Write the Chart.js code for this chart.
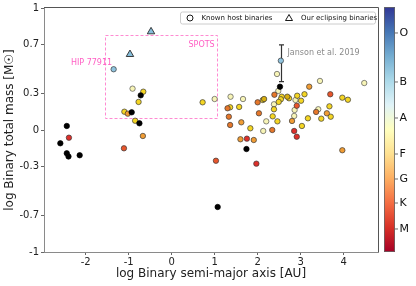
<!DOCTYPE html>
<html><head><meta charset="utf-8">
<script src="https://cdn.jsdelivr.net/npm/chart.js@4"></script>
<style>html,body{margin:0;padding:0;background:#fff}</style>
</head><body>
<canvas id="c" width="416" height="286"></canvas>
<script>
// ---------- data ----------
const xTicks = [-2, -1, 0, 1, 2, 3, 4];
const yTicks = [-1, -0.7, -0.3, 0, 0.3, 0.7, 1];
const spectralLabels = ['O', 'B', 'A', 'F', 'G', 'K', 'M'];
const spectralLevels = [0.894, 0.694, 0.547, 0.400, 0.298, 0.200, 0.094];

const hostBlack = [[-2.44,0.033],[-2.59,-0.109],[-2.44,-0.191],[-2.40,-0.217],[-2.14,-0.207],
  [-0.72,0.284],[-0.93,0.145],[-0.75,0.055],[2.52,0.355],[1.74,-0.156],[1.07,-0.631]];
const hostBlue = [[-1.35,0.498],[2.54,0.568]];
const hostPale = [[-0.91,0.339],[1.00,0.254],[1.37,0.273],[1.66,0.254],[2.45,0.459],[2.48,0.320],
  [2.38,0.211],[2.88,0.246],[2.86,0.164],[3.45,0.402],[3.41,0.170],[2.85,0.115],[2.20,0.071],
  [2.13,-0.008],[4.48,0.385]];
const hostYellow = [[-0.66,0.314],[-0.77,0.230],[-1.10,0.150],[-0.85,0.076],[0.72,0.227],[1.36,0.186],
  [1.57,0.189],[2.12,0.246],[2.56,0.273],[2.54,0.252],[2.49,0.230],[2.73,0.260],[2.92,0.281],
  [3.09,0.293],[3.01,0.240],[3.97,0.265],[4.10,0.248],[2.38,0.170],[3.67,0.194],[3.70,0.109],
  [2.35,0.112],[3.17,0.096],[3.48,0.093],[2.46,0.071],[1.83,0.014],[3.03,0.033]];
const hostGold = [[2.15,0.254],[2.69,0.273]];
const hostOrange = [[3.20,0.355],[1.62,0.063],[2.80,0.074],[3.61,0.137],[1.60,-0.076],[1.91,-0.082],
  [3.97,-0.166],[-0.67,-0.049],[-1.02,0.134]];
const hostDarkOrange = [[1.30,0.178],[1.33,0.109],[1.36,0.041],[2.39,0.289],[2.03,0.137],[2.34,0.000],
  [3.36,0.148],[2.00,0.227]];
const hostRedOrange = [[-1.11,-0.150],[3.69,0.293],[2.91,0.199],[1.03,-0.252]];
const hostRed = [[-2.39,-0.063],[2.85,-0.008],[2.91,-0.055],[1.75,-0.071],[1.97,-0.276]];
const eclipsing = [[-0.48,0.806],[-0.97,0.620]];
const jansonX = [2.54];
const jansonLow = [0.396];
const jansonHigh = [0.697];
const spotsX = [-1.54, 1.07];
const spotsY = [0.10, 0.78];

// ---------- helpers ----------
const FONT = "'DejaVu Sans', sans-serif";
const toPts = a => a.map(p => ({x: p[0], y: p[1]}));
function hostSet(arr, color, edge) {
  return {data: toPts(arr), pointStyle: 'circle', pointRadius: 2.7, pointHoverRadius: 2.7,
    backgroundColor: color, borderColor: edge || '#3a3a3a', borderWidth: 0.7, showLine: false};
}
const datasets = [
  {data: toPts(eclipsing), pointStyle: 'triangle', pointRadius: 4.3, pointHoverRadius: 4.3,
    backgroundColor: '#86bedb', borderColor: '#2a2a2a', borderWidth: 0.9},
  hostSet(hostBlue, '#8fc3de'),
  hostSet(hostBlack, '#000', '#000'),
  hostSet(hostRed, '#dd302b'),
  hostSet(hostRedOrange, '#e8552b'),
  hostSet(hostDarkOrange, '#e5772a'),
  hostSet(hostOrange, '#f09c34'),
  hostSet(hostGold, '#d8ae10'),
  hostSet(hostYellow, '#f4d523'),
  hostSet(hostPale, '#f7f4b6', '#555')
];

const decor = {
  id: 'decor',
  beforeDatasetsDraw(chart) {
    const {ctx, scales: {x, y}} = chart;
    ctx.save();
    // SPOTS box
    const l = x.getPixelForValue(spotsX[0]), r = x.getPixelForValue(spotsX[1]);
    const t = y.getPixelForValue(spotsY[1]), b = y.getPixelForValue(spotsY[0]);
    ctx.strokeStyle = '#ff8ad2'; ctx.lineWidth = 1; ctx.setLineDash([3, 2]);
    ctx.strokeRect(Math.round(l) + 0.5, Math.round(t) + 0.5, Math.round(r - l), Math.round(b - t));
    ctx.setLineDash([]);
    ctx.fillStyle = '#ff5fc4'; ctx.font = '8px ' + FONT; ctx.textBaseline = 'middle';
    ctx.textAlign = 'right'; ctx.fillText('SPOTS', r - 3, t + 10);
    const hx = x.getPixelForValue(hostBlue[0][0]), hy = y.getPixelForValue(hostBlue[0][1]);
    ctx.fillText('HIP 77911', hx - 1.5, hy - 6.5);
    // Janson error bar
    for (let i = 0; i < jansonX.length; i++) {
      const ex = Math.round(x.getPixelForValue(jansonX[i])) + 0.5;
      const y0 = y.getPixelForValue(jansonLow[i]), y1 = y.getPixelForValue(jansonHigh[i]);
      ctx.strokeStyle = '#333'; ctx.lineWidth = 1.2;
      ctx.beginPath(); ctx.moveTo(ex, y0); ctx.lineTo(ex, y1);
      ctx.moveTo(ex - 2.5, y0); ctx.lineTo(ex + 2.5, y0);
      ctx.moveTo(ex - 2.5, y1); ctx.lineTo(ex + 2.5, y1); ctx.stroke();
      ctx.fillStyle = '#8a8a8a'; ctx.textAlign = 'left';
      ctx.fillText('Janson et al. 2019', ex + 6, (y0 + y1) / 2 - 10.5);
    }
    ctx.restore();
  },
  afterDraw(chart) {
    const {ctx, chartArea: ca} = chart;
    ctx.save();
    // top/right frame
    ctx.strokeStyle = '#555'; ctx.lineWidth = 1;
    ctx.beginPath();
    ctx.moveTo(ca.left, Math.round(ca.top) - 0.5); ctx.lineTo(Math.round(ca.right) + 0.5, Math.round(ca.top) - 0.5);
    ctx.lineTo(Math.round(ca.right) + 0.5, ca.bottom);
    ctx.stroke();
    // legend
    const lx = ca.right - 198, ly = ca.top + 3.5, lw = 195, lh = 12;
    ctx.fillStyle = '#fff'; ctx.strokeStyle = '#cccccc'; ctx.lineWidth = 1;
    ctx.beginPath(); ctx.roundRect(lx + 0.5, ly + 0.5, lw, lh, 2); ctx.fill(); ctx.stroke();
    const cy = ly + lh / 2 + 0.5;
    ctx.strokeStyle = '#000'; ctx.lineWidth = 0.9;
    ctx.beginPath(); ctx.arc(lx + 10, cy, 3, 0, Math.PI * 2); ctx.stroke();
    ctx.beginPath(); ctx.moveTo(lx + 109, cy - 3.5); ctx.lineTo(lx + 112.5, cy + 2.5); ctx.lineTo(lx + 105.5, cy + 2.5); ctx.closePath(); ctx.stroke();
    ctx.fillStyle = '#111'; ctx.font = '7px ' + FONT; ctx.textBaseline = 'middle'; ctx.textAlign = 'left';
    ctx.fillText('Known host binaries', lx + 21.5, cy);
    ctx.fillText('Our eclipsing binaries', lx + 121, cy);
    // colorbar
    const bx = ca.right + 6, bw = 11, by0 = ca.top - 1, by1 = ca.bottom;
    const g = ctx.createLinearGradient(0, by1, 0, by0);
    const stops = ['#a50026','#d73027','#f46d43','#fdae61','#fee090','#ffffbf','#e0f3f8','#abd9e9','#74add1','#4575b4','#313695'];
    stops.forEach((c, i) => g.addColorStop(i / (stops.length - 1), c));
    ctx.fillStyle = g; ctx.fillRect(bx, by0, bw, by1 - by0);
    ctx.strokeStyle = '#666'; ctx.lineWidth = 0.8; ctx.strokeRect(bx + 0.5, by0 + 0.5, bw - 1, by1 - by0 - 1);
    ctx.fillStyle = '#111'; ctx.font = '11px ' + FONT; ctx.textAlign = 'left'; ctx.textBaseline = 'middle';
    spectralLabels.forEach((lab, i) => {
      const py = by1 - spectralLevels[i] * (by1 - by0);
      ctx.beginPath(); ctx.moveTo(bx + bw, py); ctx.lineTo(bx + bw + 3, py); ctx.strokeStyle = '#444'; ctx.stroke();
      ctx.fillText(lab, bx + bw + 4.5, py + 0.5);
    });
    ctx.restore();
  }
};

new Chart(document.getElementById('c'), {
  type: 'scatter',
  data: {datasets},
  plugins: [decor],
  options: {
    responsive: false, animation: false, devicePixelRatio: 1,
    layout: {padding: {top: 8, right: 38, left: 0, bottom: 0}},
    plugins: {legend: {display: false}, tooltip: {enabled: false}},
    scales: {
      x: {
        type: 'linear', min: -2.97, max: 4.8,
        afterBuildTicks: s => { s.ticks = xTicks.map(v => ({value: v})); },
        afterFit: s => { s.height = 34; },
        ticks: {font: {family: FONT, size: 10}, color: '#222', padding: 1, maxRotation: 0, autoSkip: false,
          callback: v => String(v)},
        grid: {drawOnChartArea: false, drawTicks: true, tickLength: 3, color: '#666'},
        border: {color: '#8a8a8a', width: 1},
        title: {display: true, text: 'log Binary semi-major axis [AU]', font: {family: FONT, size: 12}, color: '#222',
          padding: {top: 0, bottom: 5}}
      },
      y: {
        type: 'linear', min: -1, max: 1,
        afterBuildTicks: s => { s.ticks = yTicks.map(v => ({value: v})); },
        afterFit: s => { s.width = 44; },
        ticks: {font: {family: FONT, size: 10}, color: '#222', padding: 2, autoSkip: false,
          callback: v => String(v)},
        grid: {drawOnChartArea: false, drawTicks: true, tickLength: 3, color: '#666'},
        border: {color: '#8a8a8a', width: 1},
        title: {display: true, text: 'log Binary total mass [M☉]', font: {family: FONT, size: 12}, color: '#222',
          padding: {top: 3, bottom: 0}}
      }
    }
  }
});
</script>
</body></html>
